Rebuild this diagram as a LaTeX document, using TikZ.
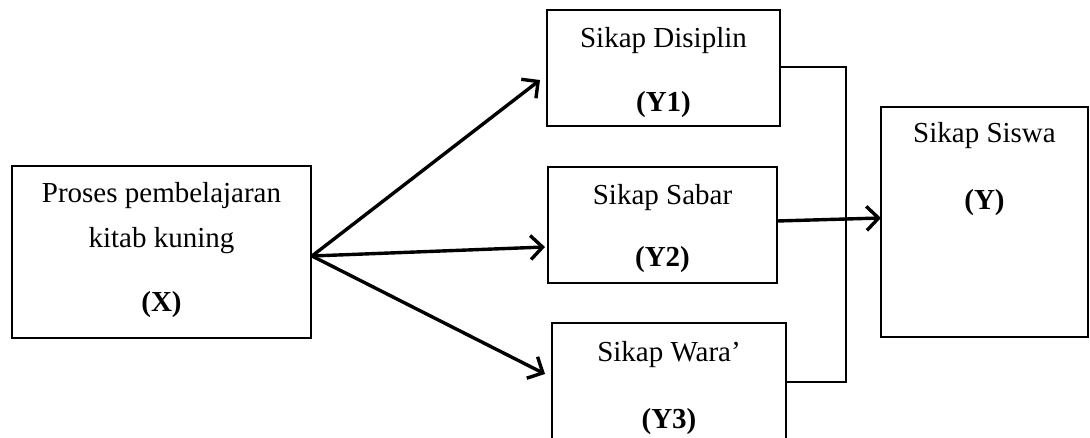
\documentclass[tikz,border=0pt]{standalone}
\usepackage{fontspec}
\setmainfont{Liberation Serif}
\usetikzlibrary{arrows.meta}
\begin{document}
\begin{tikzpicture}[x=1pt,y=-1pt,
  box/.style={draw, line width=2.6pt, inner sep=0pt},
  lbl/.style={anchor=base, inner sep=0pt, font=\fontsize{29}{34}\selectfont},
  arr/.style={line width=3.4pt, -{Straight Barb[length=12pt,width=24pt,line width=3.4pt]}},
  link/.style={line width=2.4pt}]
\useasboundingbox (0,0) rectangle (1090,438);
\clip (0,0) rectangle (1090,438);
% boxes
\node[box, minimum width=299pt, minimum height=172pt] (X) at (161.5,252) {};
\node[box, minimum width=233pt, minimum height=116pt] (Y1) at (663.5,68) {};
\node[box, minimum width=229pt, minimum height=116pt] (Y2) at (662.5,225) {};
\node[box, minimum width=234pt, minimum height=127pt] (Y3) at (669,386.5) {};
\node[box, minimum width=207pt, minimum height=230pt] (Y) at (984.5,222) {};
% texts
\node[lbl] (tx1) at (161.5,203) {Proses pembelajaran};
\node[lbl] (tx2) at (161.5,248) {kitab kuning};
\node[lbl] (tx3) at (161.5,312) {\textbf{(X)}};
\node[lbl] (ta1) at (663.5,48) {Sikap Disiplin};
\node[lbl] (ta2) at (663.5,112) {\textbf{(Y1)}};
\node[lbl] (tb1) at (662.5,205) {Sikap Sabar};
\node[lbl] (tb2) at (662.5,267) {\textbf{(Y2)}};
\node[lbl] (tc1) at (669,362) {Sikap Wara’};
\node[lbl] (tc2) at (669,428) {\textbf{(Y3)}};
\node[lbl] (td1) at (984.5,143) {Sikap Siswa};
\node[lbl] (td2) at (984.5,210) {\textbf{(Y)}};
% connector points
\coordinate (xs) at (312,256);
\coordinate (e1) at (540,80);
\coordinate (e2) at (545,247);
\coordinate (e3) at (545,374);
\coordinate (b1) at (846,67);
\coordinate (b3) at (846,382);
\coordinate (ys) at (777,221);
\coordinate (yt) at (881,218);
% bracket
\draw[link] (Y1.east |- b1) -- (b1) -- (b3) -- (Y3.east |- b3);
% arrows
\draw[arr] (xs) -- (e1);
\draw[arr] (xs) -- (e2);
\draw[arr] (xs) -- (e3);
\draw[arr] (ys) -- (yt);
\end{tikzpicture}
\end{document}
